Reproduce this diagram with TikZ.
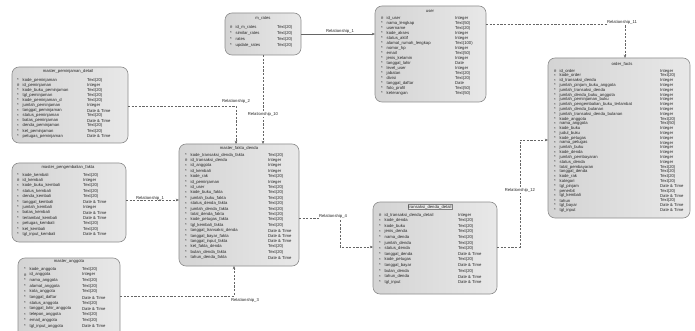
\documentclass[tikz,border=0pt]{standalone}
\usepackage{fontspec}
\setmainfont{Liberation Sans}
\usetikzlibrary{arrows.meta}
\tikzset{
  tbl/.style={draw=black!45, line width=0.6pt, rounded corners=7pt, left color=black!17, right color=black!9, anchor=north west, inner sep=0pt, outer sep=0pt},
  txt/.style={font=\fontsize{4.2}{4.2}\selectfont, text=black!85, inner sep=0pt, anchor=west},
  ttl/.style={font=\fontsize{4.2}{4.2}\selectfont, text=black!85, inner sep=0.6pt},
  rel/.style={draw=black!60, line width=0.55pt, dash pattern=on 2.2pt off 1.4pt, -{Stealth[length=3.2pt,width=2.6pt]}},
  lbl/.style={font=\fontsize{4.2}{4.2}\selectfont, text=black!85, fill=white, inner sep=0.6pt}
}
\newcommand\ertrows[6]{%
  \foreach [count=\i] \m/\n/\t in {#6} {%
    \node[txt] (#1m\i) at ({#2},{#4+(\i-1)*#5}) {\m};
    \node[txt] (#1n\i) at ({#2+5.5},{#4+(\i-1)*#5}) {\n};
    \node[txt] (#1t\i) at ({#3},{#4+(\i-1)*#5}) {\t};
  }}
\begin{document}
\begin{tikzpicture}[x=1pt,y=-1pt]
\useasboundingbox (0,0) rectangle (695,331);
\clip (0,0) rectangle (695,331);
\fill[white] (0,0) rectangle (695,331);

% ---------- tables ----------
% T1 m_rates
\node[tbl, minimum width=76pt, minimum height=42pt] (t1) at (225,13) {};
\node[ttl] (t1h) at (263,19) {m\_rates};
\ertrows{t1}{230}{277}{27}{6}{\#/id\_m\_rates/Text(20), */similar\_rates/Text(20), */rates/Text(20), */update\_rates/Text(20)}

% T2 user
\node[tbl, minimum width=111pt, minimum height=96pt] (t2) at (375,6) {};
\node[ttl] (t2h) at (430,11) {user};
\ertrows{t2}{381}{455}{18}{5}{\#/id\_user/Integer, */nama\_lengkap/Text(50), */username/Text(20), */kode\_akses/Integer, */status\_aktif/Integer, */alamat\_rumah\_lengkap/Text(100), */nomor\_hp/Integer, */email/Text(50), */jenis\_kelamin/Integer, */tanggal\_lahir/Date, */level\_user/Integer, */jabatan/Text(20), */divisi/Text(20), */tanggal\_daftar/Date, */foto\_profil/Text(50), */keterangan/Text(50)}

% T3 order_facts
\node[tbl, minimum width=142pt, minimum height=160pt] (t3) at (548,58) {};
\node[ttl] (t3h) at (622,64) {order\_facts};
\ertrows{t3}{554}{660}{71}{4.8}{\#/id\_order/Integer, */kode\_order/Text(20), */id\_transaksi\_denda/Integer, */jumlah\_pinjam\_buku\_anggota/Integer, */jumlah\_transaksi\_denda/Integer, */jumlah\_denda\_buku\_anggota/Integer, */jumlah\_peminjaman\_buku/Integer, */jumlah\_pengembalian\_buku\_terlambat/Integer, */jumlah\_denda\_bulanan/Integer, */jumlah\_transaksi\_denda\_bulanan/Integer, */kode\_anggota/Text(20), */nama\_anggota/Text(50), */kode\_buku/Integer, */judul\_buku/Integer, */kode\_petugas/Integer, */nama\_petugas/Integer, */jumlah\_buku/Integer, */kode\_denda/Integer, */jumlah\_pembayaran/Integer, */status\_denda/Integer, */total\_pembayaran/Text(20), */tanggal\_denda/Text(20), */kode\_rak/Text(20), */kategori/Text(20), */tgl\_pinjam/Date \& Time, */penerbit/Text(20), */tgl\_kembali/Date \& Time, */tahun/Text(20), */tgl\_bayar/Date \& Time, */tgl\_input/Date \& Time}

% T4 master_peminjaman_detail
\node[tbl, minimum width=116pt, minimum height=76pt] (t4) at (12,67) {};
\node[ttl] (t4h) at (68,71) {master\_peminjaman\_detail};
\ertrows{t4}{17}{87}{80}{5.1}{*/kode\_peminjaman/Text(20), \#/id\_peminjaman/Integer, */kode\_buku\_peminjaman/Text(20), */tgl\_peminjaman/Text(20), */kode\_peminjaman\_d/Text(20), */jumlah\_peminjaman/Integer, */tanggal\_peminjaman/Date \& Time, */status\_peminjaman/Text(20), */batas\_peminjaman/Date \& Time, */denda\_peminjaman/Text(20), */ket\_peminjaman/Text(20), */petugas\_peminjaman/Date \& Time}

% T5 master_pengembalian
\node[tbl, minimum width=114pt, minimum height=79pt] (t5) at (12,163) {};
\node[ttl] (t5h) at (68,167) {master\_pengembalian\_fakta};
\ertrows{t5}{17}{83}{175}{5.4}{*/kode\_kembali/Text(20), \#/id\_kembali/Integer, */kode\_buku\_kembali/Text(20), */status\_kembali/Text(20), */denda\_kembali/Text(20), */tanggal\_kembali/Date \& Time, */jumlah\_kembali/Integer, */batas\_kembali/Date \& Time, */terlambat\_kembali/Date \& Time, */petugas\_kembali/Text(20), */ket\_kembali/Text(20), */tgl\_input\_kembali/Date \& Time}

% T6 master_anggota
\node[tbl, minimum width=102pt, minimum height=80pt] (t6) at (18,258) {};
\node[ttl] (t6h) at (69,262) {master\_anggota};
\ertrows{t6}{24}{82}{269}{5.7}{*/kode\_anggota/Text(20), \#/id\_anggota/Integer, */nama\_anggota/Text(20), */alamat\_anggota/Text(20), */kota\_anggota/Text(20), */tanggal\_daftar/Date \& Time, */status\_anggota/Text(20), */tanggal\_lahir\_anggota/Date \& Time, */telepon\_anggota/Text(20), */email\_anggota/Text(20), */tgl\_input\_anggota/Date \& Time}

% T7 master_fakta_denda
\node[tbl, minimum width=120pt, minimum height=122pt] (t7) at (179,144) {};
\node[ttl] (t7h) at (239,148) {master\_fakta\_denda};
\ertrows{t7}{185}{268}{155}{5.4}{*/kode\_transaksi\_denda\_fakta/Text(20), \#/id\_transaksi\_denda/Integer, */id\_anggota/Integer, */id\_kembali/Integer, */kode\_rak/Text(20), */id\_peminjaman/Integer, */id\_user/Text(20), */kode\_buku\_fakta/Text(20), */jumlah\_buku\_fakta/Text(20), */status\_denda\_fakta/Text(20), */jumlah\_denda\_fakta/Text(20), */total\_denda\_fakta/Text(20), */kode\_petugas\_fakta/Text(20), */tgl\_kembali\_fakta/Text(20), */tanggal\_transaksi\_denda/Date \& Time, */tanggal\_bayar\_fakta/Date \& Time, */tanggal\_input\_fakta/Date \& Time, */ket\_fakta\_denda/Text(20), */bulan\_denda\_fakta/Text(20), */tahun\_denda\_fakta/Date \& Time}

% T8 transaksi_denda_detail
\node[tbl, minimum width=124pt, minimum height=92pt] (t8) at (373,202) {};
\node[ttl, draw=black!50, fill=black!8, line width=0.3pt] (t8h) at (430,207) {transaksi\_denda\_detail};
\ertrows{t8}{379}{458}{215}{5.6}{\#/id\_transaksi\_denda\_detail/Integer, */kode\_denda/Text(20), */kode\_buku/Text(20), */jenis\_denda/Text(20), */nama\_denda/Text(20), */jumlah\_denda/Text(20), */status\_denda/Text(20), */tanggal\_denda/Date \& Time, */kode\_petugas/Text(20), */tanggal\_bayar/Date \& Time, */bulan\_denda/Text(20), */tahun\_denda/Date \& Time, */tgl\_input/Date \& Time}

% ---------- relationships ----------
\coordinate (c11) at (625,24);
\coordinate (c2) at (236,106);
\coordinate (c5) at (150,200);
\coordinate (c3) at (234,296);
\coordinate (c4a) at (340,218);
\coordinate (c4b) at (340,247);
\coordinate (c12a) at (520,247);
\coordinate (c12b) at (520,140);

\draw[rel, solid] (t1.east) -- (t2.west |- t1.east);
\node[lbl, fill=none] (l1) at (340,31) {Relationship\_1};

\draw[rel] (t2.east |- c11) -- (c11) -- (c11 |- t3.north);
\node[lbl] (l11) at (622,22) {Relationship\_11};

\draw[rel] (t1.south) -- (t1.south |- t7.north);
\node[lbl] (l10) at (263,114) {Relationship\_10};

\draw[rel] (t4.east |- c2) -- (c2) -- (c2 |- t7.north);
\node[lbl] (l2) at (236,101) {Relationship\_2};

\draw[rel] (t5.east |- c5) -- (t7.west |- c5);
\node[lbl, fill=none] (l5) at (150,198) {Relationship\_1};

\draw[rel] (t6.east |- c3) -- (c3) -- (c3 |- t7.south);
\node[lbl] (l3) at (245,300) {Relationship\_3};

\draw[rel] (t7.east |- c4a) -- (c4a) -- (c4b) -- (t8.west |- c4b);
\node[lbl] (l4) at (333,216) {Relationship\_4};

\draw[rel] (t8.east |- c12a) -- (c12a) -- (c12b) -- (t3.west |- c12b);
\node[lbl] (l12) at (520,190) {Relationship\_12};
\end{tikzpicture}
\end{document}
